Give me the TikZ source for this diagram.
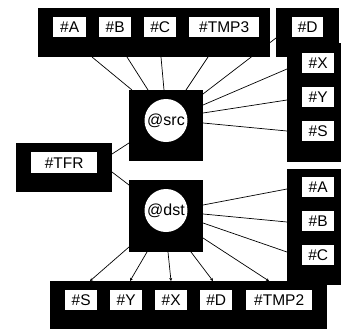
\documentclass[tikz,border=0pt]{standalone}
\usepackage{fontspec}
\setmainfont{Liberation Sans}
\usetikzlibrary{arrows.meta}
\pgfdeclarelayer{bg}
\pgfsetlayers{bg,main}
\begin{document}
\begin{tikzpicture}[x=1pt,y=-1pt,
  grp/.style={rectangle, fill=black, draw=none, inner sep=0pt, anchor=north west},
  lbl/.style={rectangle, fill=white, draw=none, inner sep=0pt, anchor=north west, minimum height=20pt, font=\fontsize{15.5}{15.5}\selectfont},
  hub/.style={circle, fill=white, draw=none, minimum size=43pt, inner sep=0pt, font=\fontsize{16}{16}\selectfont},
  edge/.style={line width=0.7pt, black},
  arr/.style={edge, -{Stealth[length=3pt,width=3pt]}}]
\useasboundingbox (0,0) rectangle (341,330);
% groups
\node[grp, minimum width=232pt, minimum height=49pt] (gtop) at (38,8) {};
\node[grp, minimum width=54pt, minimum height=119pt] (gxys) at (287,43) {};
\node[grp, minimum width=63pt, minimum height=49pt] (gd) at (276,8) {};
\node[grp, minimum width=74pt, minimum height=71pt] (gsrc) at (129,90) {};
\node[grp, minimum width=96pt, minimum height=49pt] (gtfr) at (16,143) {};
\node[grp, minimum width=74pt, minimum height=72pt] (gdst) at (129,180) {};
\node[grp, minimum width=54pt, minimum height=116pt] (gabc) at (287,169) {};
\node[grp, minimum width=277pt, minimum height=48pt] (gbot) at (50,281) {};
% labels
\node[lbl, minimum width=33pt] (tA) at (53,17) {\#A};
\node[lbl, minimum width=32pt] (tB) at (99,17) {\#B};
\node[lbl, minimum width=32pt] (tC) at (144,17) {\#C};
\node[lbl, minimum width=70pt] (tT) at (189,17) {\#TMP3};
\node[lbl, minimum width=31pt] (tD) at (292,17) {\#D};
\node[lbl, minimum width=32pt] (rX) at (302,53) {\#X};
\node[lbl, minimum width=32pt] (rY) at (302,87) {\#Y};
\node[lbl, minimum width=32pt] (rS) at (302,121) {\#S};
\node[lbl, minimum width=66pt, minimum height=21pt] (tfr) at (31,152) {\#TFR};
\node[lbl, minimum width=32pt] (rA) at (302,177) {\#A};
\node[lbl, minimum width=32pt] (rB) at (302,211) {\#B};
\node[lbl, minimum width=32pt] (rC) at (302,245) {\#C};
\node[lbl, minimum width=32pt] (bS) at (65,290) {\#S};
\node[lbl, minimum width=32pt] (bY) at (110,290) {\#Y};
\node[lbl, minimum width=32pt] (bX) at (155,290) {\#X};
\node[lbl, minimum width=32pt] (bD) at (200,290) {\#D};
\node[lbl, minimum width=66pt] (bT) at (246,290) {\#TMP2};
% hubs
\node[hub] (src) at (166,120.5) {@src};
\node[hub] (dst) at (166,210.5) {@dst};
% connector end points
\coordinate (a1) at (92,57);   \coordinate (a2) at (132,90);
\coordinate (b1) at (127,57);  \coordinate (b2) at (148,90);
\coordinate (c1) at (161,57);  \coordinate (c2) at (164,90);
\coordinate (t1) at (208,57);  \coordinate (t2) at (186,90);
\coordinate (d1) at (276,38);  \coordinate (d2) at (203,94);
\coordinate (x1) at (287,69);  \coordinate (x2) at (203,105);
\coordinate (y1) at (287,100); \coordinate (y2) at (203,113);
\coordinate (s1) at (287,131); \coordinate (s2) at (203,123);
\coordinate (f1) at (112,154); \coordinate (f2) at (129,143);
\coordinate (g1) at (112,172); \coordinate (g2) at (129,185);
\coordinate (ra1) at (287,189); \coordinate (ra2) at (203,205);
\coordinate (rb1) at (287,222); \coordinate (rb2) at (203,214);
\coordinate (rc1) at (287,252); \coordinate (rc2) at (203,223);
\coordinate (o1) at (129,247); \coordinate (o2) at (90,281);
\coordinate (p1) at (147,252); \coordinate (p2) at (130,281);
\coordinate (q1) at (168,252); \coordinate (q2) at (171,281);
\coordinate (r1) at (191,252); \coordinate (r2) at (213,281);
\coordinate (u1) at (203,238); \coordinate (u2) at (269,281);
\begin{pgfonlayer}{bg}
\fill[white] (0,0) rectangle (341,330);
\draw[edge] (a1) -- (a2);
\draw[edge] (b1) -- (b2);
\draw[edge] (c1) -- (c2);
\draw[edge] (t1) -- (t2);
\draw[edge] (d1) -- (d2);
\draw[edge] (x1) -- (x2);
\draw[edge] (y1) -- (y2);
\draw[edge] (s1) -- (s2);
\draw[edge] (f1) -- (f2);
\draw[edge] (g1) -- (g2);
\draw[edge] (ra1) -- (ra2);
\draw[edge] (rb1) -- (rb2);
\draw[edge] (rc1) -- (rc2);
\draw[arr] (o1) -- (o2);
\draw[arr] (p1) -- (p2);
\draw[arr] (q1) -- (q2);
\draw[arr] (r1) -- (r2);
\draw[arr] (u1) -- (u2);
\end{pgfonlayer}
\end{tikzpicture}
\end{document}
